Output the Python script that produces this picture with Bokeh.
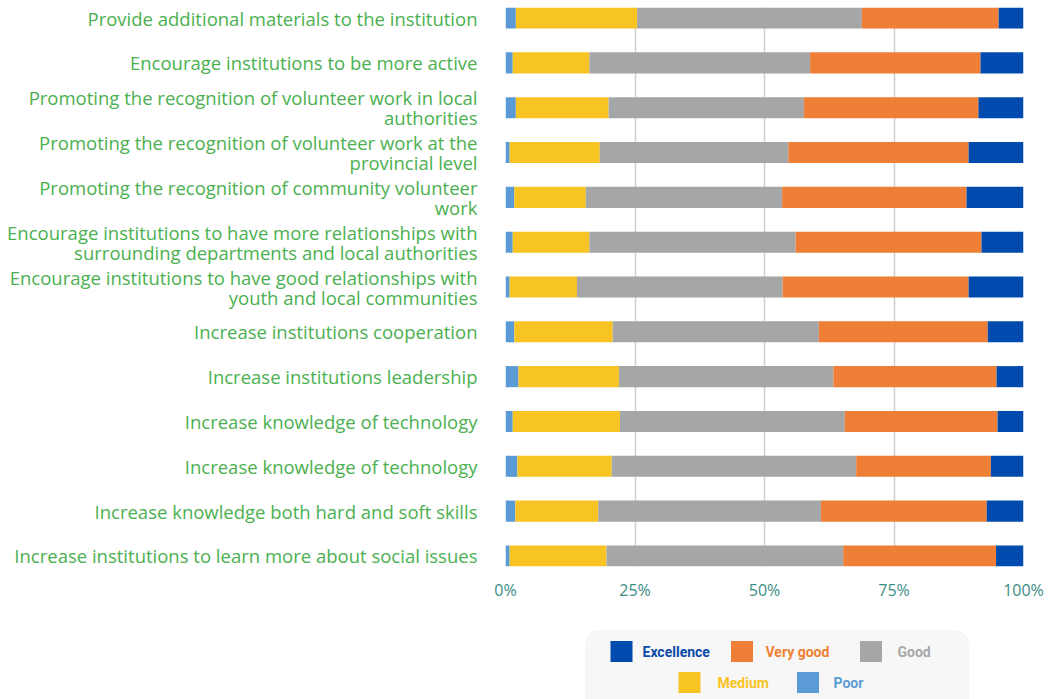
from bokeh.plotting import figure
from bokeh.models import ColumnDataSource, Range1d, FixedTicker, BoxAnnotation
from bokeh.layouts import column
from bokeh.embed import file_html
from bokeh.resources import INLINE
from bokeh.core.properties import value

# ---------------- data (top row first) ----------------
categories = [
    "Provide additional materials to the institution",
    "Encourage institutions to be more active",
    "Promoting the recognition of volunteer work in local\nauthorities",
    "Promoting the recognition of volunteer work at the\nprovincial level",
    "Promoting the recognition of community volunteer\nwork",
    "Encourage institutions to have more relationships with\nsurrounding departments and local authorities",
    "Encourage institutions to have good relationships with\nyouth and local communities",
    "Increase institutions cooperation",
    "Increase institutions leadership",
    "Increase knowledge of technology",
    "Increase knowledge of technology",
    "Increase knowledge both hard and soft skills",
    "Increase institutions to learn more about social issues",
]
poor       = [2.0, 1.4, 2.0, 0.8, 1.7, 1.4, 0.8, 1.7, 2.5, 1.4, 2.3, 1.9, 0.8]
medium     = [23.4, 14.8, 17.9, 17.4, 13.8, 14.8, 13.0, 19.0, 19.4, 20.7, 18.2, 16.0, 18.7]
good       = [43.4, 42.6, 37.7, 36.4, 37.9, 39.8, 39.7, 39.8, 41.4, 43.4, 47.2, 43.0, 45.7]
very_good  = [26.4, 32.9, 33.7, 34.8, 35.6, 35.9, 35.9, 32.6, 31.5, 29.5, 26.0, 32.0, 29.5]
excellence = [4.8, 8.3, 8.7, 10.6, 11.0, 8.1, 10.6, 6.9, 5.2, 5.0, 6.3, 7.1, 5.3]

series = ["Poor", "Medium", "Good", "Very good", "Excellence"]
series_keys = ["poor", "medium", "good", "very_good", "excellence"]
colors = ["#5b9bd5", "#f8c423", "#a5a6a8", "#ef7e36", "#004bad"]
legend_text_colors = ["#5b9bd5", "#f8c423", "#a8a8a8", "#f08032", "#0a4aa8"]

x_ticks = [0, 25, 50, 75, 100]
x_tick_labels = ["0%", "25%", "50%", "75%", "100%"]

n = len(categories)
ypos = [n - 1 - i for i in range(n)]

source = ColumnDataSource(data=dict(
    y=ypos, poor=poor, medium=medium, good=good,
    very_good=very_good, excellence=excellence,
))

BAR_H = 0.47
W = 1059
BL, BR = 505, 36   # frame borders (left / right), shared by both figures

p = figure(width=W, height=620, output_backend="svg", toolbar_location=None,
           x_range=Range1d(0, 100),
           y_range=Range1d(-BAR_H / 2, n - 1 + BAR_H / 2),
           min_border_left=BL, min_border_right=BR, min_border_top=7,
           min_border_bottom=54)
p.outline_line_color = None
p.background_fill_color = "white"

p.hbar_stack(series_keys, y="y", height=BAR_H, color=colors, source=source,
             line_color=None)

# x axis
p.xaxis.ticker = FixedTicker(ticks=x_ticks)
p.xaxis.major_label_overrides = {t: l for t, l in zip(x_ticks, x_tick_labels)}
p.xaxis.axis_line_color = None
p.xaxis.major_tick_line_color = None
p.xaxis.minor_tick_line_color = None
p.xaxis.major_tick_out = 0
p.xaxis.major_tick_in = 0
p.xaxis.major_label_text_font = "Open Sans"
p.xaxis.major_label_text_font_size = "16px"
p.xaxis.major_label_text_color = "#3a8c84"
p.xaxis.major_label_standoff = 12

# y axis
p.yaxis.ticker = FixedTicker(ticks=ypos)
p.yaxis.major_label_overrides = {y: c for y, c in zip(ypos, categories)}
p.yaxis.axis_line_color = None
p.yaxis.major_tick_line_color = None
p.yaxis.minor_tick_line_color = None
p.yaxis.major_tick_out = 0
p.yaxis.major_tick_in = 0
p.yaxis.major_label_text_font = "Open Sans"
p.yaxis.major_label_text_font_size = "18.5px"
p.yaxis.major_label_text_color = "#4bb050"
p.yaxis.major_label_text_align = "right"
p.yaxis.major_label_text_line_height = 0.8
p.yaxis.major_label_standoff = 28

p.xgrid.ticker = FixedTicker(ticks=x_ticks)
p.xgrid.grid_line_color = "#cfcfcf"
p.xgrid.grid_line_width = 1.5
p.ygrid.grid_line_color = None

# ---------------- legend figure (pixel-unit ranges, frame aligned with p) ----------------
LH = 79
p2 = figure(width=W, height=LH, output_backend="svg", toolbar_location=None,
            x_range=Range1d(BL, W - BR), y_range=Range1d(0, LH),
            x_axis_type=None, y_axis_type=None,
            min_border=0, min_border_left=BL, min_border_right=BR,
            min_border_top=0, min_border_bottom=0)
p2.outline_line_color = None
p2.grid.grid_line_color = None

p2.add_layout(BoxAnnotation(left=585, right=968, bottom=-20, top=69,
                            fill_color="#f7f7f7", fill_alpha=1.0,
                            line_color="#efefef", line_width=1,
                            border_radius=14, level="underlay"))

# legend layout: order, swatch centre x, row centre y, label left x (pixels)
legend_order = ["Excellence", "Very good", "Good", "Medium", "Poor"]
swatch_cx = [621, 741.5, 870.5, 689, 807.5]
row_cy = [48, 48, 48, 17, 17]
label_x = [642, 765, 897, 717, 833]

idx = [series.index(s) for s in legend_order]
leg_src = ColumnDataSource(data=dict(
    sx=swatch_cx, sy=row_cy, lx=label_x, label=legend_order,
    fill=[colors[i] for i in idx], tcol=[legend_text_colors[i] for i in idx],
))
p2.rect(x="sx", y="sy", width=22, height=21, fill_color="fill", line_color=None,
        source=leg_src)
p2.text(x="lx", y="sy", text="label", text_color="tcol", source=leg_src,
        text_font=value("Roboto"), text_font_style="bold",
        text_font_size="14px", text_align="left", text_baseline="middle")

layout = column(p, p2, spacing=0)
open("out.html", "w").write(file_html(layout, INLINE))
